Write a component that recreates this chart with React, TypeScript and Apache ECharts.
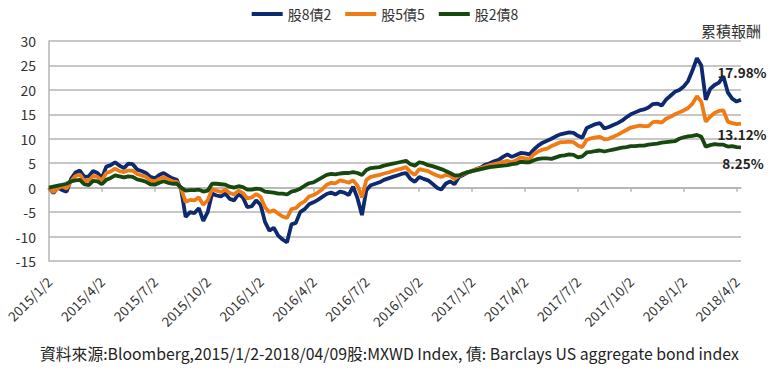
import React, { useEffect, useRef } from "react";
import * as echarts from "echarts";

const SAMPLE_DAYS = [2, 9, 16, 23];
const START_YEAR = 2015;
const END_DATE = "2018/4/9";
const QUARTER_MONTHS = [1, 4, 7, 10];

const SERIES_NAMES = ["股8債2", "股5債5", "股2債8"];
const COLORS = ["#0d2a70", "#f07b14", "#16480f"];
const END_LABELS = ["17.98%", "13.12%", "8.25%"];

const STOCK80: number[] = [
  0, -1.1, 0, -0.5, -0.8, 1.8, 3.1, 3.5, 2.2, 2.3, 3.4, 3.0,
  2.0, 4.3, 4.6, 5.2, 4.5, 4.0, 4.9, 4.8, 3.7, 3.4, 3.0, 2.2,
  1.9, 2.6, 3.0, 2.4, 1.9, 1.6, -0.5, -6.0, -5.0, -5.2, -4.2, -6.8,
  -5.0, -1.2, -1.6, -1.8, -1.2, -2.3, -2.6, -1.3, -2.0, -4.0, -3.8, -2.6,
  -3.5, -7.0, -8.8, -8.2, -9.8, -10.6, -11.2, -7.5, -7.2, -5.0, -4.4, -3.4,
  -3.0, -2.5, -1.9, -1.3, -1.0, -1.4, -0.8, -1.0, -1.5, 0.2, -2.2, -5.6,
  -0.5, 0.5, 0.8, 1.1, 1.6, 1.9, 2.2, 2.5, 2.8, 3.0, 1.8, 1.2,
  2.2, 1.8, 1.5, 0.8, 0.0, -0.4, 0.8, 1.3, 0.7, 2.2, 2.6, 3.1,
  3.4, 3.8, 4.1, 4.7, 5.0, 5.4, 5.7, 6.3, 6.8, 6.3, 6.7, 7.1,
  7.0, 6.8, 7.8, 8.6, 9.2, 9.6, 10.0, 10.5, 10.9, 11.1, 11.3, 11.2,
  10.6, 10.2, 12.2, 12.6, 13.0, 13.2, 12.1, 12.4, 12.8, 13.2, 13.7, 14.4,
  15.0, 15.4, 15.8, 16.0, 16.4, 17.1, 17.2, 16.8, 18.0, 18.8, 19.6, 20.0,
  20.7, 21.8, 24.0, 26.5, 25.0, 18.0, 20.2, 21.0, 21.5, 22.8, 19.5, 18.2,
  17.6, 17.98,
];

const STOCK50: number[] = [
  0, -0.9, -0.1, 0.3, -0.2, 1.3, 2.4, 2.7, 1.4, 1.4, 2.4, 2.2,
  1.5, 3.0, 3.3, 3.9, 3.4, 3.2, 3.5, 3.5, 2.8, 2.5, 2.2, 1.5,
  1.3, 1.8, 2.2, 1.7, 1.3, 1.2, -0.3, -2.9, -2.5, -2.6, -2.0, -3.5,
  -2.6, -0.3, -0.6, -0.9, -0.4, -1.1, -1.4, -0.6, -1.1, -2.2, -2.0, -1.3,
  -1.9, -4.0, -5.0, -4.6, -5.3, -5.9, -6.2, -4.4, -4.2, -3.3, -2.8, -1.8,
  -1.5, -1.0, -0.3, 0.6, 1.0, 0.9, 1.5, 1.3, 1.0, 1.5, 0.4, -2.0,
  1.6, 2.2, 2.4, 2.6, 2.9, 3.1, 3.4, 3.7, 3.9, 4.2, 3.2, 2.6,
  3.8, 3.6, 3.4, 2.9, 2.5, 2.2, 2.6, 2.4, 1.8, 2.4, 2.8, 3.2,
  3.4, 3.8, 4.0, 4.3, 4.6, 4.8, 5.0, 5.3, 5.5, 5.2, 5.6, 6.2,
  6.0, 5.9, 6.8, 7.4, 7.8, 8.0, 8.5, 8.9, 9.3, 9.3, 9.4, 9.3,
  8.6, 8.3, 9.8, 10.1, 10.3, 10.4, 9.9, 10.0, 10.4, 10.8, 11.3, 11.8,
  12.3, 12.5, 12.7, 12.6, 12.6, 13.4, 13.5, 13.3, 14.1, 14.5, 15.0, 15.4,
  15.8, 16.3, 17.2, 18.7, 17.6, 13.5, 14.5, 15.3, 15.7, 15.8, 13.5, 13.2,
  13.0, 13.12,
];

const STOCK20: number[] = [
  0, 0.2, 0.4, 0.6, 0.8, 1.3, 1.5, 1.6, 0.7, 0.5, 1.4, 1.3,
  0.7, 1.6, 2.0, 2.5, 2.3, 2.1, 2.3, 2.2, 1.7, 1.5, 1.2, 0.7,
  0.6, 1.0, 1.3, 1.0, 0.8, 0.8, 0.0, -0.6, -0.5, -0.5, -0.4, -0.8,
  -0.6, 0.8, 0.8, 0.7, 0.6, 0.2, 0.0, 0.3, 0.1, -0.4, -0.4, -0.2,
  -0.3, -0.8, -0.9, -1.0, -1.2, -1.2, -1.4, -0.8, -0.6, -0.2, 0.4, 0.9,
  1.1, 1.6, 2.1, 2.6, 2.8, 2.7, 2.9, 3.0, 3.0, 3.2, 3.0, 2.6,
  3.6, 4.0, 4.1, 4.2, 4.5, 4.7, 4.9, 5.1, 5.3, 5.5, 4.8, 4.5,
  5.2, 5.0, 4.6, 4.4, 4.1, 3.8, 3.4, 3.0, 2.5, 2.5, 2.9, 3.2,
  3.4, 3.6, 3.8, 4.0, 4.2, 4.3, 4.4, 4.5, 4.6, 4.8, 4.9, 5.3,
  5.2, 5.2, 5.6, 5.9, 6.0, 6.0, 5.9, 6.2, 6.5, 6.6, 6.8, 6.7,
  6.2, 6.4, 7.2, 7.3, 7.5, 7.6, 7.4, 7.6, 7.8, 8.0, 8.2, 8.3,
  8.5, 8.5, 8.6, 8.6, 8.8, 8.9, 9.0, 9.2, 9.3, 9.4, 9.5, 10.0,
  10.3, 10.5, 10.6, 10.8, 10.4, 8.4, 8.7, 8.9, 8.8, 8.8, 8.4, 8.5,
  8.3, 8.25,
];

const SERIES_DATA = [STOCK80, STOCK50, STOCK20];
const END_LABEL_OFFSETS: [number, number][] = [[1, -28], [1, 10], [2, 16]];

const Y_MIN = -15;
const Y_MAX = 30;
const Y_STEP = 5;

const TITLE_TEXT = "累積報酬";
const SOURCE_TEXT =
  "資料來源:Bloomberg,2015/1/2-2018/04/09股:MXWD Index, 債: Barclays US aggregate bond index";

function buildDates(): string[] {
  const out: string[] = [];
  for (let y = START_YEAR; y <= 2018; y++) {
    for (let m = 1; m <= 12; m++) {
      for (const d of SAMPLE_DAYS) {
        const s = `${y}/${m}/${d}`;
        out.push(s);
        if (s === END_DATE) return out;
      }
    }
  }
  return out;
}

const DATES = buildDates();

function isQuarterStart(value: string): boolean {
  const parts = value.split("/");
  const m = Number(parts[1]);
  const d = Number(parts[2]);
  return d === 2 && QUARTER_MONTHS.includes(m);
}

const FONT = "'Noto Sans CJK TC', 'Noto Sans', sans-serif";
const GRID_COLOR = "#b4b4b4";
const TEXT_COLOR = "#333333";

export default function App() {
  const ref = useRef<HTMLDivElement>(null);

  useEffect(() => {
    document.body.style.margin = "0";
    if (!ref.current) return;
    const chart = echarts.init(ref.current, null, { renderer: "svg" });
    const last = DATES.length - 1;
    const option: any = {
      animation: false,
      backgroundColor: "#ffffff",
      textStyle: { fontFamily: FONT },
      title: [
        {
          text: TITLE_TEXT,
          right: 4,
          top: 18,
          textStyle: { fontSize: 15, fontWeight: "normal", color: TEXT_COLOR, fontFamily: FONT },
        },
        {
          text: SOURCE_TEXT,
          left: 35,
          top: 341,
          textStyle: { fontSize: 15.8, fontWeight: "normal", color: "#222222", fontFamily: FONT },
        },
      ],
      legend: {
        top: 2,
        left: "center",
        icon: "rect",
        itemWidth: 31,
        itemHeight: 4,
        itemGap: 14,
        textStyle: { fontSize: 14, color: TEXT_COLOR, fontFamily: FONT },
        data: SERIES_NAMES,
      },
      grid: { left: 49, right: 29, top: 41, bottom: 112, containLabel: false },
      xAxis: [
        {
          type: "category",
          data: DATES,
          boundaryGap: false,
          axisLine: { onZero: true, lineStyle: { color: GRID_COLOR, width: 1.5 } },
          axisTick: {
            show: true,
            length: 4,
            interval: (_i: number, v: string) => isQuarterStart(v),
            lineStyle: { color: GRID_COLOR, width: 1.5 },
          },
          axisLabel: { show: false },
          splitLine: { show: false },
        },
        {
          type: "category",
          data: DATES,
          boundaryGap: false,
          position: "bottom",
          axisLine: { show: false, onZero: false },
          axisTick: { show: false },
          axisLabel: {
            show: true,
            rotate: 45,
            margin: 18,
            fontSize: 13.5,
            color: TEXT_COLOR,
            fontFamily: FONT,
            interval: (_i: number, v: string) => isQuarterStart(v),
          },
          splitLine: { show: false },
        },
      ],
      yAxis: {
        type: "value",
        min: Y_MIN,
        max: Y_MAX,
        interval: Y_STEP,
        axisLine: { show: true, lineStyle: { color: GRID_COLOR, width: 1.5 } },
        axisTick: { show: false },
        axisLabel: { fontSize: 14, color: TEXT_COLOR, margin: 13, fontFamily: FONT },
        splitLine: { show: true, lineStyle: { color: GRID_COLOR, width: 1.5 } },
      },
      series: SERIES_NAMES.map((name, k) => ({
        name,
        type: "line",
        xAxisIndex: 0,
        data: SERIES_DATA[k],
        symbol: "none",
        lineStyle: { color: COLORS[k], width: 3.8 },
        itemStyle: { color: COLORS[k] },
        markPoint: {
          symbol: "circle",
          symbolSize: 0,
          silent: true,
          data: [
            {
              coord: [DATES[last], SERIES_DATA[k][last]],
              value: END_LABELS[k],
            },
          ],
          label: {
            show: true,
            position: "inside",
            formatter: END_LABELS[k],
            offset: END_LABEL_OFFSETS[k],
            fontSize: 13.5,
            fontWeight: "bold",
            color: "#222222",
            fontFamily: FONT,
          },
        },
      })),
    };
    chart.setOption(option);
    return () => chart.dispose();
  }, []);

  return <div ref={ref} style={{ width: 770, height: 373 }} />;
}
